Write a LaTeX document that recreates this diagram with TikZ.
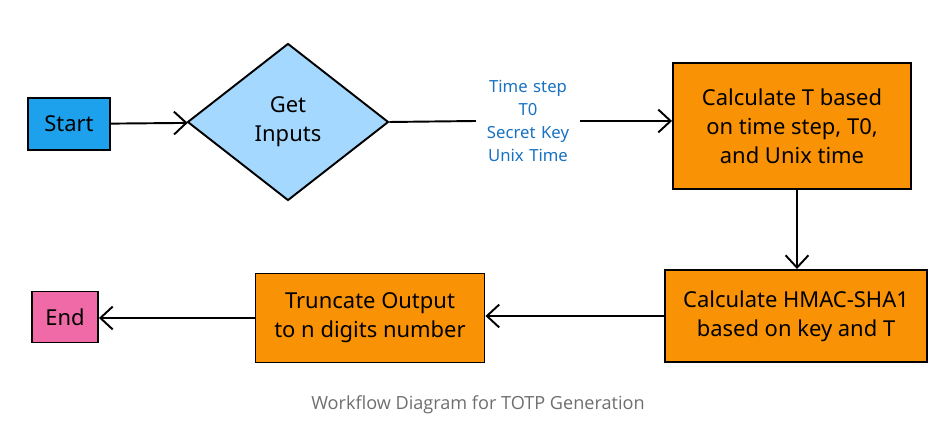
\documentclass[tikz,border=0pt]{standalone}
\usepackage{fontspec}
\setmainfont{Noto Sans}
\newfontfamily\capfont{Open Sans}
\usetikzlibrary{arrows.meta,positioning,shapes.geometric}
\definecolor{tblue}{HTML}{1DA1EC}
\definecolor{tlight}{HTML}{A5D8FF}
\definecolor{torange}{HTML}{FA9205}
\definecolor{tpink}{HTML}{F06AA8}
\definecolor{tlabel}{HTML}{1971C2}
\definecolor{tgray}{HTML}{6E6E6E}
\tikzset{
  flowbox/.style={draw=black,line width=1.1pt,align=center,font=\fontsize{12.5}{16.5}\selectfont,inner sep=2pt},
  startb/.style={flowbox,fill=tblue},
  endb/.style={flowbox,fill=tpink},
  calc/.style={flowbox,fill=torange},
  getin/.style={flowbox,diamond,fill=tlight,inner sep=0pt},
  arr/.style={-{Straight Barb[length=7pt,width=13pt,line width=1.1pt]},line width=1.1pt,draw=black},
  plain/.style={line width=1.1pt,draw=black},
  lbl/.style={font=\fontsize{9.5}{13}\selectfont,text=tlabel,align=center,inner sep=1pt},
}
\begin{document}
\begin{tikzpicture}
  \useasboundingbox (0,0) rectangle (18.78,8.72);
  \node[startb,minimum width=1.64cm,minimum height=1.04cm] (start) at (1.38,6.24) {Start};
  \node[getin,minimum width=4.02cm,minimum height=3.14cm] (inputs) at (5.76,6.28) {Get\\Inputs};
  \node[lbl,text width=2.0cm] (params) at (10.56,6.30) {Time step\\T0\\Secret Key\\Unix Time};
  \node[calc,minimum width=4.76cm,minimum height=2.52cm] (calct) at (15.84,6.20) {Calculate T based\\on time step, T0,\\and Unix time};
  \node[calc,minimum width=5.24cm,minimum height=1.84cm] (hmac) at (15.92,2.40) {Calculate HMAC-SHA1\\based on key and T};
  \node[calc,minimum width=4.58cm,minimum height=1.78cm] (trunc) at (7.40,2.36) {Truncate Output\\to n digits number};
  \node[endb,minimum width=1.32cm,minimum height=1.02cm] (end) at (1.30,2.38) {End};
  \draw[arr] (start) -- (inputs);
  \draw[plain] (inputs.east) -- (params.west);
  \draw[arr] (params.east) -- (params.east -| calct.west);
  \draw[arr] ([xshift=1mm]calct.south) -- ([xshift=1mm]calct.south |- hmac.north);
  \draw[arr] (hmac.west) -- (hmac.west -| trunc.east);
  \draw[arr] (trunc.west) -- (trunc.west -| end.east);
  \node[font=\capfont\fontsize{10.3}{12}\selectfont,text=tgray] (caption) at (9.56,0.62) {Workflow Diagram for TOTP Generation};
\end{tikzpicture}
\end{document}
